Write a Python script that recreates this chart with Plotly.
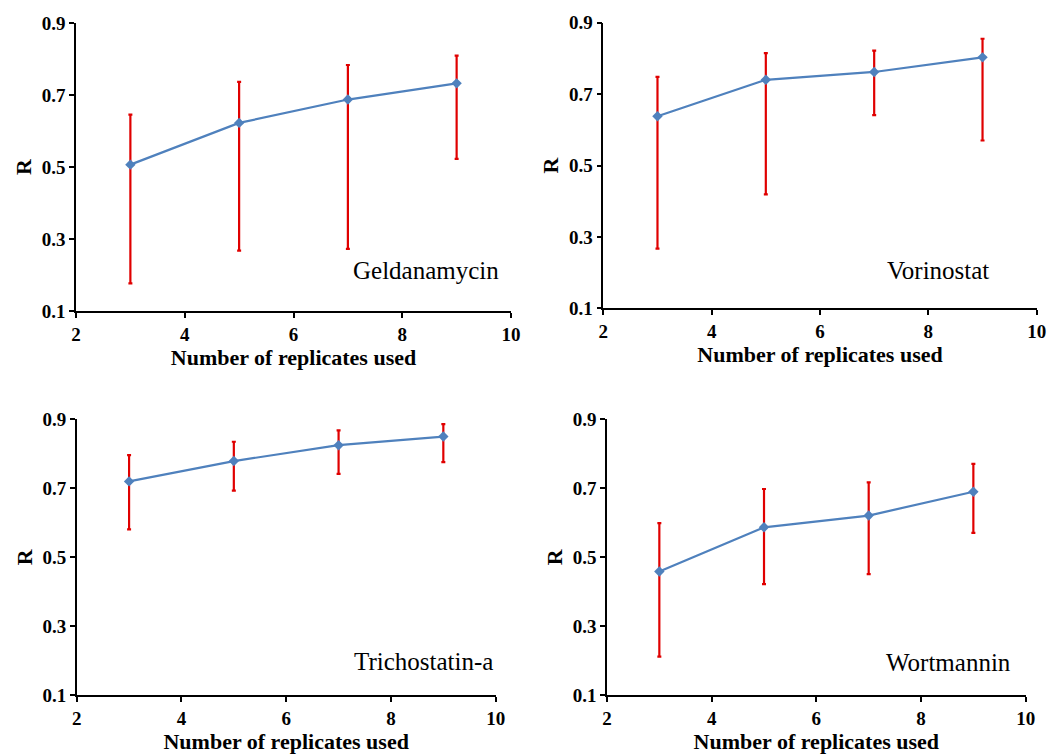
import plotly.graph_objects as go

W, H = 1055, 754

x_vals = [3, 5, 7, 9]

names = ["Geldanamycin", "Vorinostat", "Trichostatin-a", "Wortmannin"]

r_geldanamycin = [0.507, 0.623, 0.688, 0.733]
hi_geldanamycin = [0.646, 0.737, 0.784, 0.810]
lo_geldanamycin = [0.177, 0.268, 0.273, 0.523]

r_vorinostat = [0.638, 0.740, 0.762, 0.803]
hi_vorinostat = [0.748, 0.815, 0.822, 0.855]
lo_vorinostat = [0.267, 0.419, 0.641, 0.570]

r_trichostatin = [0.720, 0.779, 0.825, 0.850]
hi_trichostatin = [0.796, 0.835, 0.868, 0.886]
lo_trichostatin = [0.581, 0.693, 0.742, 0.776]

r_wortmannin = [0.459, 0.587, 0.621, 0.690]
hi_wortmannin = [0.599, 0.698, 0.717, 0.771]
lo_wortmannin = [0.212, 0.422, 0.451, 0.571]

series = [
    (r_geldanamycin, hi_geldanamycin, lo_geldanamycin),
    (r_vorinostat, hi_vorinostat, lo_vorinostat),
    (r_trichostatin, hi_trichostatin, lo_trichostatin),
    (r_wortmannin, hi_wortmannin, lo_wortmannin),
]

x_ticks = [2, 4, 6, 8, 10]
y_ticks = [0.1, 0.3, 0.5, 0.7, 0.9]

# panel pixel boxes: (left, right, top, bottom)
boxes = [
    (76, 511, 23.3, 311),
    (603.3, 1036.7, 22.7, 308.3),
    (76.7, 495.7, 419.3, 695.3),
    (607, 1025.7, 419.3, 695.3),
]
label_pos = [(9.82, 0.212), (9.15, 0.205), (9.99, 0.198), (9.76, 0.195)]

fig = go.Figure()
serif = "Liberation Serif"

for i, ((r, hi, lo), name, box, lp) in enumerate(zip(series, names, boxes, label_pos)):
    ax = "" if i == 0 else str(i + 1)
    up = [h - v for h, v in zip(hi, r)]
    dn = [v - l for v, l in zip(r, lo)]
    fig.add_trace(go.Scatter(
        x=x_vals, y=r, mode="lines+markers",
        line=dict(color="#4F81BD", width=2.2),
        marker=dict(symbol="diamond", size=8, color="#4F81BD"),
        error_y=dict(type="data", symmetric=False, array=up, arrayminus=dn,
                     color="#E00000", thickness=2.2, width=2),
        xaxis="x" + ax, yaxis="y" + ax, showlegend=False,
    ))
    l, rr, t, b = box
    common = dict(showgrid=False, zeroline=False, showline=True, linecolor="black",
                  linewidth=1.5, ticks="outside", ticklen=5, tickcolor="black",
                  tickwidth=1.5, automargin=False,
                  tickfont=dict(family=serif, size=19, color="black", weight="bold"))
    fig.update_layout(**{
        "xaxis" + ax: dict(domain=[l / W, rr / W], range=[2, 10], tickvals=x_ticks,
                           ticktext=[str(v) for v in x_ticks], anchor="y" + ax,
                           title=dict(text="<b>Number of replicates used</b>",
                                      font=dict(family=serif, size=22, color="black"),
                                      standoff=4),
                           **common),
        "yaxis" + ax: dict(domain=[1 - b / H, 1 - t / H], range=[0.1, 0.9], tickvals=y_ticks,
                           ticktext=["%.1f" % v for v in y_ticks], anchor="x" + ax,
                           title=dict(text="<b>R</b>",
                                      font=dict(family=serif, size=22, color="black"),
                                      standoff=4),
                           **common),
    })
    fig.add_annotation(x=lp[0], y=lp[1], xref="x" + ax, yref="y" + ax, text=name,
                       showarrow=False, xanchor="right", yanchor="middle",
                       font=dict(family=serif, size=25, color="black"))

fig.update_layout(width=W, height=H, margin=dict(l=0, r=0, t=0, b=0),
                  paper_bgcolor="white", plot_bgcolor="white")
fig.write_html("out.html", config={"displayModeBar": False},
               post_script="document.body.style.margin='0px';document.body.style.overflow='hidden';")
